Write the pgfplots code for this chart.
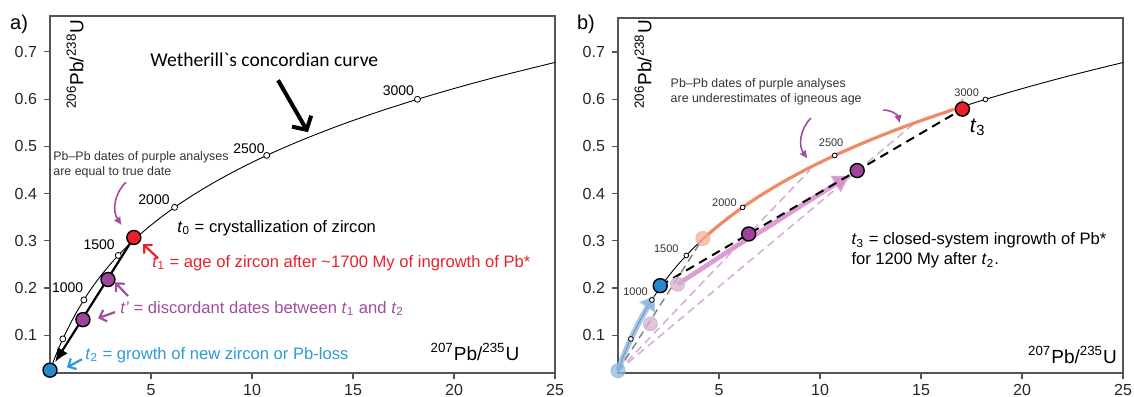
\documentclass[border=0pt]{standalone}
\usepackage{fontspec}
\setmainfont{Liberation Sans}
\newfontfamily\calibri{Carlito}
\usepackage{pgfplots}
\pgfplotsset{compat=1.18}
\usepackage{pgfplotstable}
\usetikzlibrary{arrows.meta}

\definecolor{axgray}{HTML}{555555}
\definecolor{tred}{HTML}{E8212B}
\definecolor{tpurple}{HTML}{A24C9E}
\definecolor{dpurple}{HTML}{9C459A}
\definecolor{tblue}{HTML}{2B9BD8}
\definecolor{dblue}{HTML}{2389CC}
\definecolor{corange}{HTML}{EE8A66}
\definecolor{lorange}{HTML}{F5AE90}
\definecolor{lblue}{HTML}{8DB8E2}
\definecolor{lpurple}{HTML}{D6AEDA}
\definecolor{pinkc}{HTML}{D98ACB}
\definecolor{fpurple}{HTML}{D4B0CF}

\pgfplotstableread{
x y
0 0.0250
0.1035 0.0372
0.2177 0.0500
0.3438 0.0635
0.4828 0.0775
0.6362 0.0922
0.8055 0.1074
0.9926 0.1233
1.1987 0.1399
1.4264 0.1570
1.6774 0.1748
1.9546 0.1931
2.2603 0.2116
2.5978 0.2304
2.9701 0.2496
3.3809 0.2690
3.8342 0.2887
4.3345 0.3088
4.8864 0.3291
5.4956 0.3498
6.1677 0.3708
6.9102 0.3921
7.7286 0.4137
8.6319 0.4357
9.6288 0.4581
10.7289 0.4808
11.9426 0.5038
13.2820 0.5272
14.7602 0.5510
16.3913 0.5751
18.1913 0.5996
20.1778 0.6245
22.3698 0.6498
25.0000 0.6777
}\concordia

\pgfplotstableread{
x y
0.6362 0.0922
1.6774 0.1748
3.3809 0.2690
6.1677 0.3708
10.7289 0.4808
18.1913 0.5996
}\agemarks

\pgfplotsset{
 myaxis/.style={
  scale only axis, width=252.5pt, xmin=0, xmax=25, ymin=0.02,
  clip=false,
  axis line style={axgray, line width=0.6pt},
  tick style={axgray, line width=0.6pt},
  tick align=outside, major tick length=3pt,
  xtick={5,10,15,20,25}, ytick={0.1,0.2,0.3,0.4,0.5,0.6,0.7},
  xtick pos=bottom, ytick pos=left,
  ticklabel style={font=\fontsize{8}{9}\selectfont, text=black!85},
  xticklabel style={yshift=1pt},
  yticklabel style={/pgf/number format/.cd, fixed, fixed zerofill, precision=1},
  /pgf/number format/assume math mode=true,
 },
 dot/.style={only marks, mark=*, mark size=3.5pt, mark options={draw=black, line width=0.7pt, fill=#1}},
 fdot/.style={only marks, mark=*, mark size=3.5pt, mark options={draw=#1, line width=0.5pt, fill=#1, opacity=0.75}},
}

\begin{document}
\begin{tikzpicture}
\useasboundingbox (0,0) rectangle (567pt,198pt);

% ---------------- panel a ----------------
\begin{axis}[myaxis, at={(25pt,11.5pt)}, anchor=south west, height=178.5pt, ymax=0.776]
\addplot[black, line width=0.45pt, smooth] table {\concordia};
\addplot[only marks, mark=*, mark size=1.5pt, mark options={fill=white, draw=black, line width=0.4pt}] table {\agemarks};
\addplot[black, line width=1.1pt, -{Latex[length=7pt,width=6pt]}] coordinates {(4.15,0.307) (0.25,0.043)};
\addplot[dot=tred] coordinates {(4.15,0.307)};
\addplot[dot=dpurple] coordinates {(2.87,0.218) (1.63,0.133)};
\addplot[dot=dblue] coordinates {(0,0.026)};

\node[font=\fontsize{7}{8}\selectfont] at (axis cs:0.87,0.2006) {1000};
\node[font=\fontsize{7}{8}\selectfont] at (axis cs:2.43,0.292) {1500};
\node[font=\fontsize{7}{8}\selectfont] at (axis cs:5.15,0.388) {2000};
\node[font=\fontsize{7}{8}\selectfont] at (axis cs:9.85,0.494) {2500};
\node[font=\fontsize{7}{8}\selectfont] at (axis cs:17.25,0.617) {3000};

\draw[black, line width=2pt, -{Straight Barb[length=5pt,width=11pt]}] (axis cs:11.29,0.640) -- (axis cs:12.77,0.530);
\node[anchor=west, font=\calibri\fontsize{9.8}{11}\selectfont, inner sep=0pt] at (axis cs:4.95,0.683) {Wetherill\textasciigrave s concordian curve};
\node[anchor=west, align=left, font=\fontsize{6.2}{7.5}\selectfont, text=black!80, inner sep=0pt] at (axis cs:0.15,0.461) {Pb--Pb dates of purple analyses\\are equal to true date};
\draw[tpurple, line width=0.8pt, -{Latex[length=4pt,width=4pt]}] (axis cs:3.76,0.424) to[bend right=40] (axis cs:3.55,0.333);

\node[anchor=west, font=\fontsize{8.3}{10}\selectfont, inner sep=0pt] at (axis cs:6.29,0.327) {\textit{t}\textsubscript{0} = crystallization of zircon};
\node[anchor=west, font=\fontsize{8.3}{10}\selectfont, text=tred, inner sep=0pt] at (axis cs:5.05,0.253) {\textit{t}\textsubscript{1} = age of zircon after \textasciitilde1700 My of ingrowth of Pb*};
\node[anchor=west, font=\fontsize{8.3}{10}\selectfont, text=tpurple, inner sep=0pt] at (axis cs:3.47,0.157) {\textit{t'} = discordant dates between \textit{t}\textsubscript{1} and \textit{t}\textsubscript{2}};
\node[anchor=west, font=\fontsize{8.3}{10}\selectfont, text=tblue, inner sep=0pt] at (axis cs:1.73,0.058) {\textit{t}\textsubscript{2} = growth of new zircon or Pb-loss};

\draw[tred, line width=1.1pt, -{Straight Barb[length=3pt,width=6pt]}] (axis cs:5.35,0.263) -- (axis cs:4.60,0.293);
\draw[tpurple, line width=1.1pt, -{Straight Barb[length=3pt,width=6pt]}] (axis cs:3.86,0.183) -- (axis cs:3.22,0.212);
\draw[tpurple, line width=1.1pt, -{Straight Barb[length=3pt,width=6pt]}] (axis cs:3.22,0.149) -- (axis cs:2.38,0.136);
\draw[tblue, line width=1.1pt, -{Straight Barb[length=3pt,width=6pt]}] (axis cs:1.58,0.049) -- (axis cs:0.84,0.032);

\node[rotate=90, font=\fontsize{9.5}{11}\selectfont] at (axis cs:1.24,0.674) {\textsuperscript{206}Pb/\textsuperscript{238}U};
\node[font=\fontsize{9.5}{11}\selectfont] at (axis cs:21.04,0.064) {\textsuperscript{207}Pb/\textsuperscript{235}U};
\node[font=\fontsize{10}{12}\selectfont] at (axis cs:-1.53,0.759) {a)};
\end{axis}

% ---------------- panel b ----------------
\begin{axis}[myaxis, at={(309pt,11.5pt)}, anchor=south west, height=177.5pt, ymax=0.772]
\addplot[lpurple, line width=0.8pt, dash pattern=on 4pt off 2.5pt] coordinates {(0,0.024) (9.5,0.45)};
\addplot[lpurple, line width=0.8pt, dash pattern=on 4pt off 2.5pt] coordinates {(0,0.024) (14.7,0.55)};
\addplot[black, line width=0.45pt, smooth] table {\concordia};
\addplot[lblue, opacity=0.8, line width=2.8pt, smooth, -{Triangle[length=7pt,width=9pt]}] coordinates {
 (0,0.0250) (0.1035,0.0372) (0.2177,0.0500) (0.3438,0.0635) (0.4828,0.0775) (0.6362,0.0922)
 (0.8055,0.1074) (0.9926,0.1233) (1.1987,0.1399) (1.4264,0.1570) (1.6774,0.1748) (1.8126,0.1839)};
\addplot[corange, line width=1.6pt, smooth, -{Triangle[length=7pt,width=7pt,color=lorange]}] coordinates {
 (4.3345,0.3088) (4.8864,0.3291) (5.4956,0.3498) (6.1677,0.3708) (6.9102,0.3921) (7.7286,0.4137)
 (8.6319,0.4357) (9.6288,0.4581) (10.7289,0.4808) (11.9426,0.5038) (13.2820,0.5272) (14.7602,0.5510)
 (16.3913,0.5751) (16.55,0.5773)};
\addplot[fdot=lblue] coordinates {(0,0.025)};
\addplot[fdot=lorange] coordinates {(4.2,0.305)};
\addplot[fdot=fpurple] coordinates {(2.95,0.208) (1.6,0.124)};
\addplot[gray, line width=0.7pt, dash pattern=on 4pt off 2.5pt] coordinates {(0,0.024) (4.2,0.305)};
\addplot[only marks, mark=*, mark size=1.2pt, mark options={fill=white, draw=black, line width=0.4pt}] table {\agemarks};
\addplot[pinkc, opacity=0.85, line width=2.3pt, smooth, -{Triangle[length=8pt,width=9pt]}] coordinates {
 (2.95,0.208) (4.33,0.246) (5.97,0.292) (7.31,0.326) (9.2,0.378) (11.45,0.438)};
\addplot[black, line width=1pt, dash pattern=on 4.5pt off 3pt] coordinates {(2.09,0.205) (17.05,0.579)};
\addplot[dot=dblue] coordinates {(2.09,0.205)};
\addplot[dot=dpurple] coordinates {(6.47,0.3145) (11.84,0.4488)};
\addplot[dot=tred] coordinates {(17.05,0.579)};

\node[font=\fontsize{5.5}{6.5}\selectfont, text=black!80] at (axis cs:0.87,0.193) {1000};
\node[font=\fontsize{5.5}{6.5}\selectfont, text=black!80] at (axis cs:2.39,0.284) {1500};
\node[font=\fontsize{5.5}{6.5}\selectfont, text=black!80] at (axis cs:5.27,0.381) {2000};
\node[font=\fontsize{5.5}{6.5}\selectfont, text=black!80] at (axis cs:10.55,0.508) {2500};
\node[font=\fontsize{5.5}{6.5}\selectfont, text=black!80] at (axis cs:17.26,0.614) {3000};

\node[anchor=west, align=left, font=\fontsize{6.2}{7.5}\selectfont, text=black!80, inner sep=0pt] at (axis cs:2.59,0.615) {Pb--Pb dates of purple analyses\\are underestimates of igneous age};
\draw[tpurple, line width=0.8pt, -{Latex[length=4pt,width=4pt]}] (axis cs:9.55,0.560) to[bend right=40] (axis cs:9.38,0.474);
\draw[tpurple, line width=0.8pt, -{Latex[length=4pt,width=4pt]}] (axis cs:13.12,0.577) to[bend left=40] (axis cs:13.94,0.549);
\node[anchor=west, align=left, font=\fontsize{8.3}{10}\selectfont, inner sep=0pt] at (axis cs:11.54,0.280) {\textit{t}\textsubscript{3} = closed-system ingrowth of Pb*\\for 1200 My after \textit{t}\textsubscript{2}.};
\node[font=\fontsize{10.5}{12}\selectfont] at (axis cs:17.81,0.541) {\textit{t}\textsubscript{3}};

\node[rotate=90, font=\fontsize{9.5}{11}\selectfont] at (axis cs:1.24,0.674) {\textsuperscript{206}Pb/\textsuperscript{238}U};
\node[font=\fontsize{9.5}{11}\selectfont] at (axis cs:22.5,0.058) {\textsuperscript{207}Pb/\textsuperscript{235}U};
\node[font=\fontsize{10}{12}\selectfont] at (axis cs:-1.59,0.759) {b)};
\end{axis}
\end{tikzpicture}
\end{document}
